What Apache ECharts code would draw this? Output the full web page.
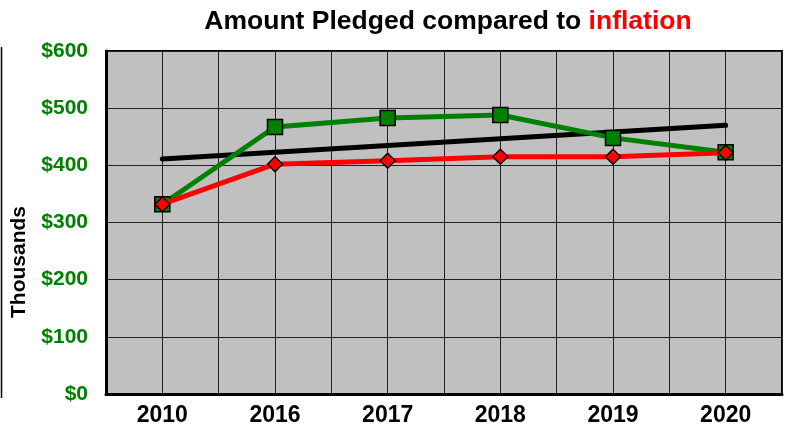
<!DOCTYPE html>
<html>
<head>
<meta charset="utf-8">
<script src="https://cdn.jsdelivr.net/npm/echarts@6/dist/echarts.min.js"></script>
<style>
  html, body { margin: 0; padding: 0; background: #fff; }
  #main { width: 797px; height: 427px; }
</style>
</head>
<body>
<div id="main"></div>
<script>
// data (thousands of dollars)
var years = ['2010', '2016', '2017', '2018', '2019', '2020'];
var pledged = [332, 467, 483, 488, 448, 423];
var inflation = [332, 402, 408, 415, 415, 422];
var trend = [411, null, null, null, null, 470]; // straight trend line, ends only
var yTicks = [0, 100, 200, 300, 400, 500, 600];

// half-band grid: 12 blank slots so vertical lines fall at every half category
var halfSlots = [];
for (var i = 0; i < years.length * 2; i++) halfSlots.push('');

var myChart = echarts.init(document.getElementById('main'));

var font = 'Liberation Sans, Arial, sans-serif';

var option = {
    animation: false,
    backgroundColor: '#fff',
    title: {
        text: '{b|Amount Pledged compared to }{r|inflation}',
        left: 443,
        textAlign: 'center',
        top: 3,
        textStyle: {
            rich: {
                b: { fontFamily: font, fontSize: 26.5, fontWeight: 'bold', color: '#000' },
                r: { fontFamily: font, fontSize: 26.5, fontWeight: 'bold', color: '#ff0000' }
            }
        }
    },
    grid: {
        left: 106,
        right: 15,
        top: 51,
        bottom: 33,
        show: true,
        backgroundColor: '#c0c0c0',
        borderColor: '#000',
        borderWidth: 2
    },
    graphic: [
        {
            type: 'text',
            rotation: Math.PI / 2,
            x: 19,
            y: 262,
            style: {
                text: 'Thousands',
                fill: '#000',
                font: 'bold 21px ' + font,
                textAlign: 'center',
                textVerticalAlign: 'middle'
            }
        },
        {
            type: 'line',
            shape: { x1: 1.5, y1: 47, x2: 1.5, y2: 398 },
            style: { stroke: '#000', lineWidth: 1.5 }
        }
    ],
    xAxis: [
        {
            type: 'category',
            data: years,
            boundaryGap: true,
            axisLine: { show: true, lineStyle: { color: '#000', width: 3 } },
            axisTick: { show: false },
            splitLine: { show: false },
            axisLabel: {
                color: '#000',
                fontFamily: font,
                fontWeight: 'bold',
                fontSize: 23,
                margin: 10
            }
        },
        {
            type: 'category',
            data: halfSlots,
            position: 'bottom',
            boundaryGap: true,
            axisLine: { show: false },
            axisTick: { show: false },
            axisLabel: { show: false },
            splitLine: { show: true, lineStyle: { color: '#222', width: 1 } }
        }
    ],
    yAxis: {
        type: 'value',
        min: yTicks[0],
        max: yTicks[yTicks.length - 1],
        interval: 100,
        axisLine: { show: true, lineStyle: { color: '#000', width: 3 } },
        axisTick: { show: false },
        splitLine: { show: true, lineStyle: { color: '#222', width: 1 } },
        axisLabel: {
            color: '#008000',
            fontFamily: font,
            fontWeight: 'bold',
            fontSize: 21,
            margin: 18,
            formatter: function (v) { return '$' + v; }
        }
    },
    series: [
        {
            name: 'Trend',
            type: 'line',
            data: trend,
            connectNulls: true,
            symbol: 'none',
            lineStyle: { color: '#000', width: 5, cap: 'round' },
            z: 2
        },
        {
            name: 'Pledged',
            type: 'line',
            data: pledged,
            symbol: 'rect',
            symbolSize: 15,
            lineStyle: { color: '#008000', width: 5 },
            itemStyle: { color: '#008000', borderColor: '#000', borderWidth: 1.5 },
            z: 3
        },
        {
            name: 'Inflation',
            type: 'line',
            data: inflation,
            symbol: 'diamond',
            symbolSize: 15,
            lineStyle: { color: '#ff0000', width: 5 },
            itemStyle: { color: '#ff0000', borderColor: '#000', borderWidth: 1.5 },
            z: 4
        }
    ]
};

option && myChart.setOption(option);
</script>
</body>
</html>
